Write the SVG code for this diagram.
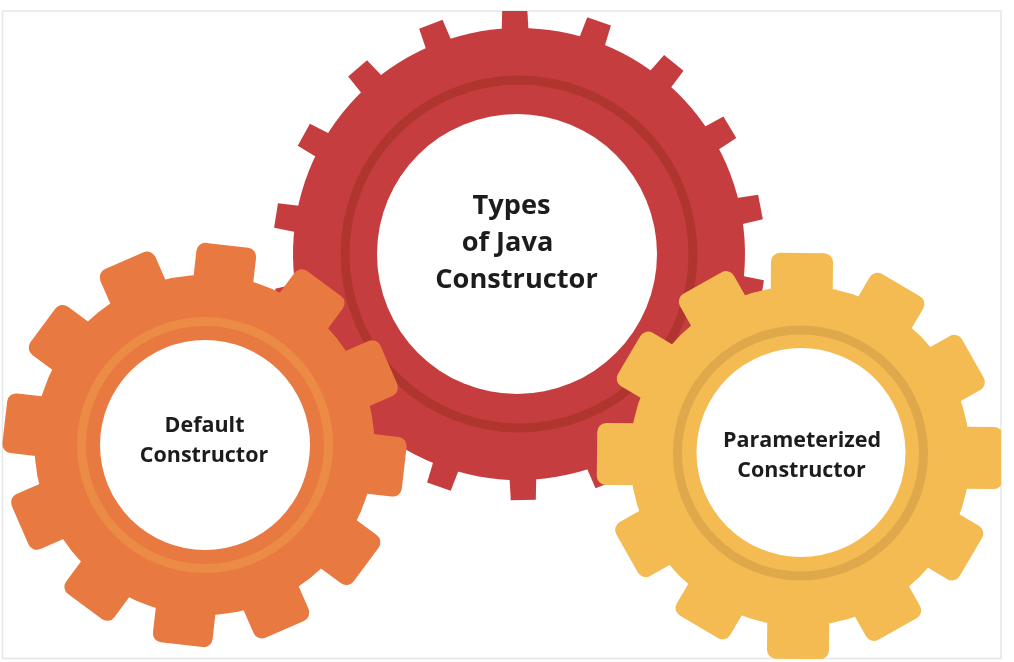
<svg xmlns="http://www.w3.org/2000/svg" xmlns:xlink="http://www.w3.org/1999/xlink" width="1014" height="662" viewBox="0 0 1014 662">
<style>
text{font-family:"Open Sans","Liberation Sans",sans-serif;font-weight:700;fill:#1c1c1c;text-anchor:middle}
.big{font-size:27.2px}
.small{font-size:21.5px}
.hole{fill:#fff}
.soft{filter:url(#soft)}
</style>
<defs>
<filter id="soft" x="-5%" y="-5%" width="110%" height="110%"><feGaussianBlur stdDeviation="0.5"/></filter>
<clipPath id="frame"><rect x="2" y="11" width="999" height="648"/></clipPath>
<path id="rt" d="M-12.5-246H12.5L14-208H-14Z"/>
<rect id="ot" x="-30" y="-201" width="60" height="50" rx="9"/>
<rect id="yt" x="-31" y="-198.5" width="62" height="50" rx="9"/>
<rect id="yl" x="-31" y="-203" width="62" height="50" rx="9"/>
</defs>
<rect width="1014" height="662" fill="#fff"/>
<rect x="2.5" y="11" width="998.5" height="647.5" fill="none" stroke="#e8e8e8" stroke-width="1.6"/>
<g clip-path="url(#frame)" class="soft">
<g id="gear-types">
<g fill="#c63d3f" transform="translate(519 254) rotate(-1)">
<circle r="226"/>
<use xlink:href="#rt"/><use xlink:href="#rt" transform="rotate(20)"/><use xlink:href="#rt" transform="rotate(40)"/><use xlink:href="#rt" transform="rotate(60)"/><use xlink:href="#rt" transform="rotate(80)"/><use xlink:href="#rt" transform="rotate(100)"/><use xlink:href="#rt" transform="rotate(120)"/><use xlink:href="#rt" transform="rotate(140)"/><use xlink:href="#rt" transform="rotate(160)"/><use xlink:href="#rt" transform="rotate(180)"/><use xlink:href="#rt" transform="rotate(200)"/><use xlink:href="#rt" transform="rotate(220)"/><use xlink:href="#rt" transform="rotate(240)"/><use xlink:href="#rt" transform="rotate(260)"/><use xlink:href="#rt" transform="rotate(280)"/><use xlink:href="#rt" transform="rotate(300)"/><use xlink:href="#rt" transform="rotate(320)"/><use xlink:href="#rt" transform="rotate(340)"/>
</g>
<circle cx="519" cy="254" r="174" fill="none" stroke="#b0362f" stroke-width="9"/>
<circle class="hole" cx="517" cy="254" r="140"/>
</g>
<g id="gear-default">
<g fill="#e8793f" transform="translate(204.5 445) rotate(6.5)">
<circle r="170"/>
<use xlink:href="#ot"/><use xlink:href="#ot" transform="rotate(30)"/><use xlink:href="#ot" transform="rotate(60)"/><use xlink:href="#ot" transform="rotate(90)"/><use xlink:href="#ot" transform="rotate(120)"/><use xlink:href="#ot" transform="rotate(150)"/><use xlink:href="#ot" transform="rotate(180)"/><use xlink:href="#ot" transform="rotate(210)"/><use xlink:href="#ot" transform="rotate(240)"/><use xlink:href="#ot" transform="rotate(270)"/><use xlink:href="#ot" transform="rotate(300)"/><use xlink:href="#ot" transform="rotate(330)"/>
</g>
<circle cx="205" cy="445" r="123.5" fill="none" stroke="#ec8b45" stroke-width="9"/>
<circle class="hole" cx="205" cy="445" r="105"/>
</g>
<g id="gear-parameterized">
<g fill="#f4bb53" transform="translate(800 456) rotate(0.6)">
<circle r="170"/>
<use xlink:href="#yl"/><use xlink:href="#yt" transform="rotate(30)"/><use xlink:href="#yt" transform="rotate(60)"/><use xlink:href="#yl" transform="rotate(90)"/><use xlink:href="#yt" transform="rotate(120)"/><use xlink:href="#yt" transform="rotate(150)"/><use xlink:href="#yl" transform="rotate(180)"/><use xlink:href="#yt" transform="rotate(210)"/><use xlink:href="#yt" transform="rotate(240)"/><use xlink:href="#yl" transform="rotate(270)"/><use xlink:href="#yt" transform="rotate(300)"/><use xlink:href="#yt" transform="rotate(330)"/>
</g>
<circle cx="800.5" cy="453" r="123" fill="none" stroke="#dfa84c" stroke-width="9"/>
<circle class="hole" cx="801" cy="452.5" r="104.5"/>
</g>
</g>
<g id="connectors"/>
<g id="labels" class="soft">
<text class="big" x="511.5" y="214">Types</text>
<text class="big" x="507.5" y="251">of Java</text>
<text class="big" x="516.5" y="288">Constructor</text>
<text class="small" x="204.5" y="431.5">Default</text>
<text class="small" x="204" y="462">Constructor</text>
<text class="small" x="802" y="447">Parameterized</text>
<text class="small" x="801.5" y="477">Constructor</text>
</g>
</svg>
